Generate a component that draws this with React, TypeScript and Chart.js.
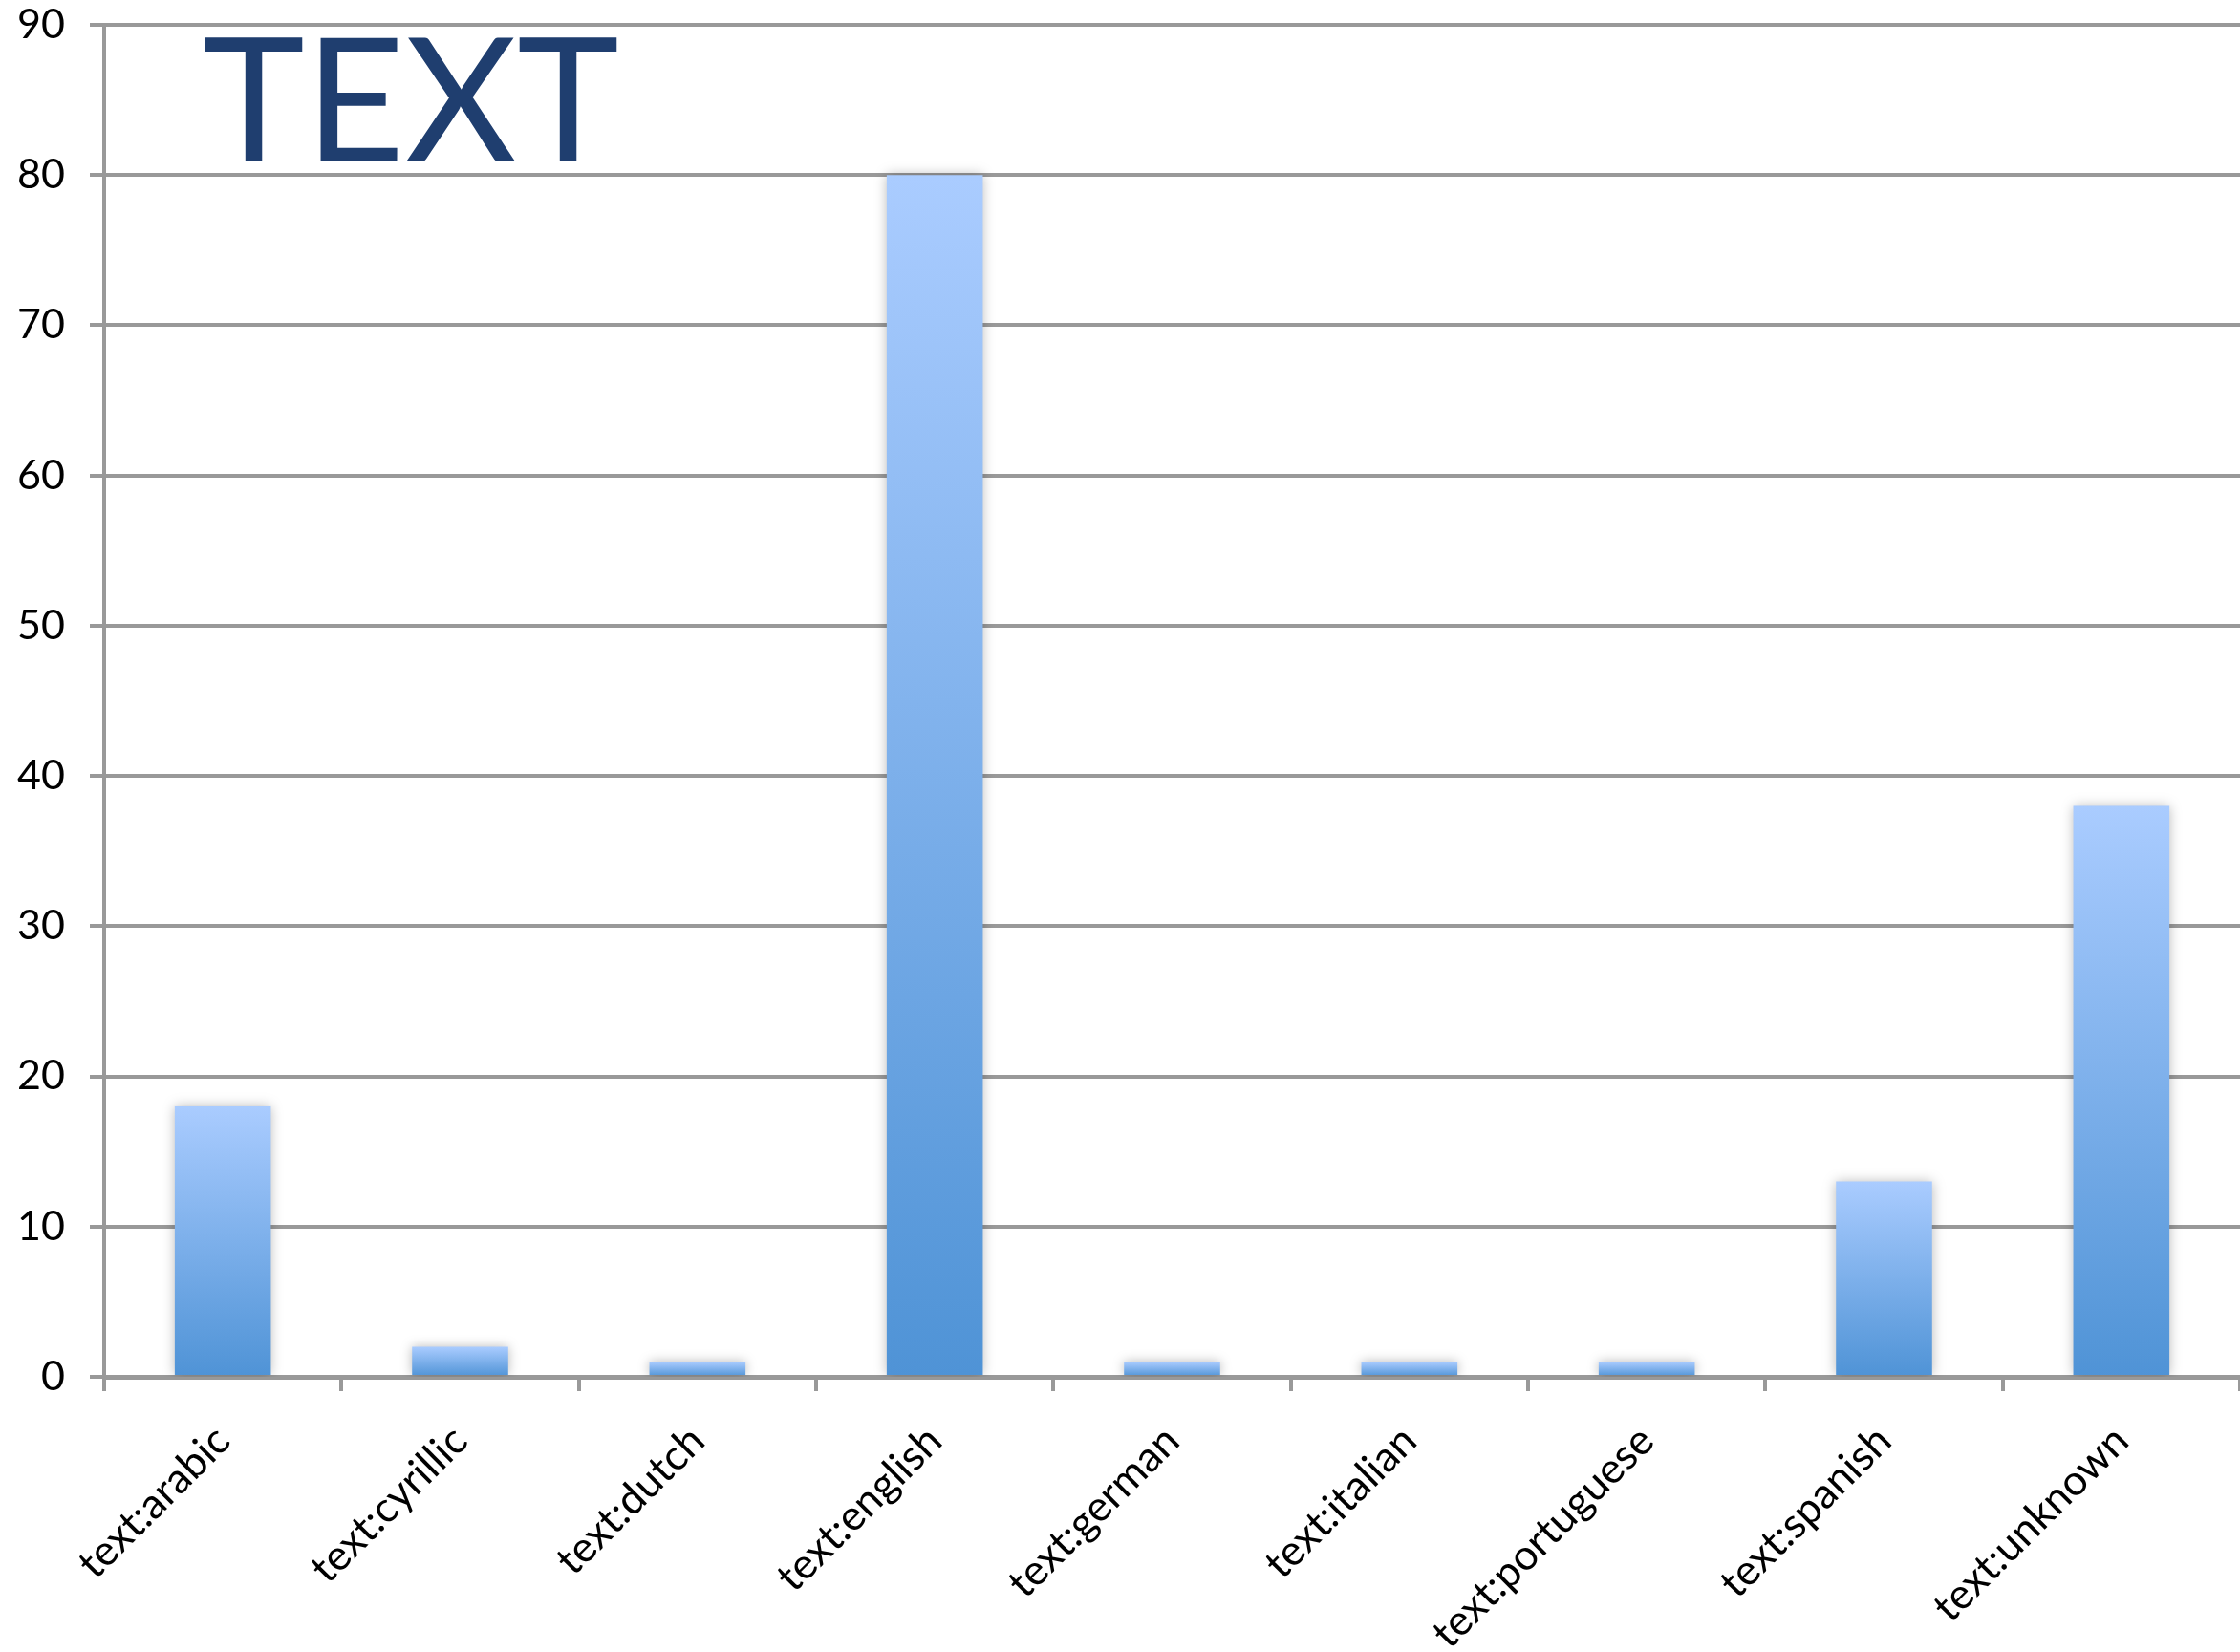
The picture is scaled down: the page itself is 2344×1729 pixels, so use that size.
import React, { useEffect, useRef } from "react";
import { Chart, registerables } from "chart.js";

Chart.register(...registerables);

const categories = [
  "text:arabic",
  "text:cyrillic",
  "text:dutch",
  "text:english",
  "text:german",
  "text:italian",
  "text:portuguese",
  "text:spanish",
  "text:unknown",
];
const counts = [18, 2, 1, 80, 1, 1, 1, 13, 38];
const yMin = 0;
const yMax = 90;
const yStep = 10;
const chartTitle = "TEXT";

const W = 2344;
const H = 1729;
const FONT = "Lato, 'Open Sans', sans-serif";

export default function App() {
  const ref = useRef<HTMLCanvasElement | null>(null);

  useEffect(() => {
    document.body.style.margin = "0";
    const canvas = ref.current;
    if (!canvas) return;

    const shadowPlugin = {
      id: "barShadow",
      beforeDatasetsDraw(chart: any) {
        const ctx = chart.ctx;
        ctx.save();
        ctx.shadowColor = "rgba(0,0,0,0.28)";
        ctx.shadowBlur = 12;
        ctx.shadowOffsetX = 0;
        ctx.shadowOffsetY = 0;
      },
      afterDatasetsDraw(chart: any) {
        chart.ctx.restore();
      },
    };

    const titlePlugin = {
      id: "bigTitle",
      afterDraw(chart: any) {
        const ctx = chart.ctx;
        ctx.save();
        ctx.font = `181px ${FONT}`;
        ctx.fillStyle = "#1F3E6F";
        ctx.textBaseline = "alphabetic";
        ctx.textAlign = "left";
        ctx.fillText(chartTitle, 212, 169);
        ctx.restore();
      },
    };

    const chart = new Chart(canvas, {
      type: "bar",
      data: {
        labels: categories,
        datasets: [
          {
            data: counts,
            backgroundColor: (c: any) => {
              const ch = c.chart;
              const ys = ch.scales && ch.scales.y;
              if (!ys || c.raw == null) return "#6FA6E8";
              const top = ys.getPixelForValue(c.raw);
              const base = ys.getPixelForValue(0);
              if (!isFinite(top) || !isFinite(base) || base - top < 1) return "#6FA6E8";
              const g = ch.ctx.createLinearGradient(0, top, 0, base);
              g.addColorStop(0, "#AACCFF");
              g.addColorStop(1, "#4F93D6");
              return g;
            },
            borderWidth: 0,
            barPercentage: 0.405,
            categoryPercentage: 1,
          },
        ],
      },
      options: {
        responsive: false,
        animation: false,
        devicePixelRatio: 1,
        layout: { autoPadding: false, padding: { top: 26, right: 0, left: 0, bottom: 0 } },
        plugins: {
          legend: { display: false },
          tooltip: { enabled: false },
          title: { display: false },
        },
        scales: {
          x: {
            offset: true,
            grid: {
              display: true,
              offset: true,
              drawOnChartArea: false,
              drawTicks: true,
              tickLength: 15,
              color: "#999999",
              lineWidth: 4,
            },
            border: { display: true, color: "#999999", width: 5 },
            ticks: {
              autoSkip: false,
              maxRotation: 45,
              minRotation: 45,
              padding: 26,
              color: "#000000",
              font: { family: FONT, size: 44 },
            },
            afterFit(scale: any) {
              scale.height = H - 1441 - 26 + 26;
              scale.paddingLeft = 0;
              scale.paddingRight = 0;
              scale.paddingTop = 0;
              scale.paddingBottom = 0;
            },
          },
          y: {
            min: yMin,
            max: yMax,
            grid: {
              color: "#999999",
              lineWidth: 4,
              drawTicks: true,
              tickLength: 15,
            },
            border: { display: true, color: "#999999", width: 4 },
            ticks: {
              stepSize: yStep,
              padding: 26,
              color: "#000000",
              font: { family: FONT, size: 43 },
            },
            afterFit(scale: any) {
              scale.width = 109;
              scale.paddingTop = 0;
              scale.paddingBottom = 0;
              scale.paddingLeft = 0;
              scale.paddingRight = 0;
            },
          },
        },
      },
      plugins: [shadowPlugin, titlePlugin],
    } as any);

    return () => chart.destroy();
  }, []);

  return (
    <div style={{ position: "fixed", left: 0, top: 0, width: W, height: H, background: "#ffffff" }}>
      <canvas ref={ref} width={W} height={H} style={{ width: W, height: H, display: "block" }} />
    </div>
  );
}
